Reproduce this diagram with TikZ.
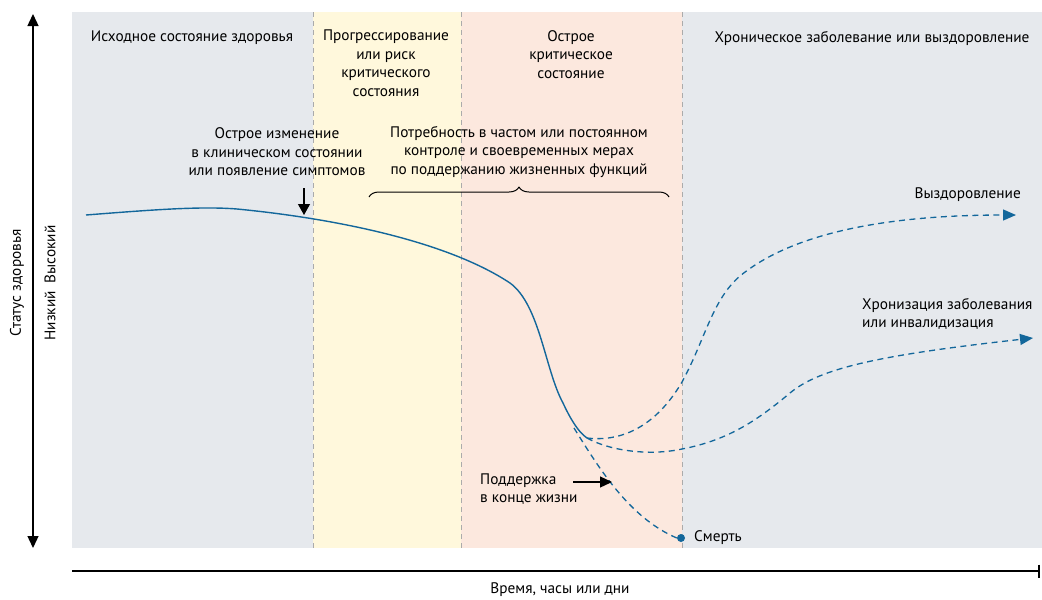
\documentclass[tikz,border=0pt]{standalone}
\usepackage{fontspec}
\setmainfont{PT Sans}
\usepackage{tikz}
\usetikzlibrary{calc}
\usetikzlibrary{arrows.meta}
\usetikzlibrary{decorations.pathreplacing}

\definecolor{bandgrey}{HTML}{E6E9ED}
\definecolor{bandyellow}{HTML}{FFF8DC}
\definecolor{bandpink}{HTML}{FCE8DE}
\definecolor{curveblue}{HTML}{13679B}
\definecolor{sepgrey}{HTML}{ABABAB}

\tikzset{
    lbl/.style={font=\fontsize{15.3}{18.5}\selectfont, align=center, inner sep=0pt},
    sepline/.style={sepgrey, line width=1pt, dash pattern=on 5pt off 4pt},
    course/.style={curveblue, line width=1.4pt},
    outcome/.style={curveblue, line width=1.3pt, dash pattern=on 6pt off 4.5pt,
        -{Triangle[length=13pt,width=11pt]}},
    axis/.style={black, line width=1.3pt},
}

\begin{document}
\begin{tikzpicture}[x=1pt,y=-1pt,line join=round]
    \useasboundingbox (0,0) rectangle (1042,600);
    %%
    % Bands
    \fill[bandgrey]   (72,12)  rectangle (313,548);
    \fill[bandyellow] (313,12) rectangle (461,548);
    \fill[bandpink]   (461,12) rectangle (682,548);
    \fill[bandgrey]   (682,12) rectangle (1042,548);
    \draw[sepline] (313,12) -- (313,548);
    \draw[sepline] (461,12) -- (461,548);
    \draw[sepline] (682,12) -- (682,548);
    %%
    % Band headers
    \node[lbl] (base) at (192,38) {Исходное состояние здоровья};
    \node[lbl, anchor=north] (prog) at (386,30) {Прогрессирование\\или риск\\критического\\состояния};
    \node[lbl, anchor=north] (acute) at (571,30) {Острое\\критическое\\состояние};
    \node[lbl] (chron) at (872,38) {Хроническое заболевание или выздоровление};
    %%
    % Axes
    \coordinate (ytop) at (33,14);
    \coordinate (ybot) at (33,548);
    \draw[axis, {Triangle[length=12pt,width=11pt]}-{Triangle[length=12pt,width=11pt]}] (ytop) -- (ybot);
    \node[lbl, rotate=90] (ystatus) at (17,283) {Статус здоровья};
    \node[lbl, rotate=90] (ylevel) at (50,283) {Низкий\hspace{8pt}Высокий};
    \coordinate (xleft) at (72,571);
    \coordinate (xright) at (1040,571);
    \draw[axis, -{Bar[width=13pt,line width=2pt]}] (xleft) -- (xright);
    \node[lbl] (xtime) at (560,590) {Время, часы или дни};
    %%
    % Node: course of illness
    \coordinate (start) at (86,215);
    \coordinate (split) at (587,438);
    \coordinate (fork) at (574,428);
    \draw[course] (start) .. controls (150,210) and (200,206) .. (237,209)
        .. controls (330,218) and (445,240) .. (510,283)
        .. controls (540,305) and (545,370) .. (563,403)
        .. controls (570,418) and (578,432) .. (split);
    %%
    % Edge: split -> recovery
    \coordinate (recend) at (1016,215);
    \draw[outcome] (split) .. controls (620,442) and (655,428) .. (682,382)
        .. controls (705,340) and (712,300) .. (740,276)
        .. controls (790,235) and (880,215) .. (recend);
    \node[lbl, anchor=east] (recovery) at (1021,195) {Выздоровление};
    %%
    % Edge: split -> chronic
    \coordinate (chrend) at (1033,338);
    \draw[outcome] (split) .. controls (610,451) and (650,456) .. (682,449)
        .. controls (730,440) and (760,418) .. (790,393)
        .. controls (820,368) and (880,355) .. (chrend);
    \node[lbl, anchor=north west, align=left] (chronic) at (862,298) {Хронизация заболевания\\или инвалидизация};
    %%
    % Edge: fork -> death
    \node[circle, fill=curveblue, inner sep=0pt, minimum size=8pt] (death) at (681,538) {};
    \draw[curveblue, line width=1.3pt, dash pattern=on 6pt off 4.5pt]
        (fork) .. controls (600,470) and (630,518) .. (death.west);
    \node[lbl, anchor=west] (deathlbl) at (694,538) {Смерть};
    %%
    % Annotations
    \node[lbl] (onset) at (277,152) {Острое изменение\\в клиническом состоянии\\или появление симптомов};
    \coordinate (onsettop) at (304,188);
    \coordinate (onsetbot) at (304,215);
    \draw[black, line width=1.2pt, -{Triangle[length=11pt,width=12pt]}] (onsettop) -- (onsetbot);
    \node[lbl] (support) at (519,152) {Потребность в частом или постоянном\\контроле и своевременных мерах\\по поддержанию жизненных функций};
    \coordinate (braceleft) at (369,197);
    \coordinate (braceright) at (669,197);
    \draw[black, line width=1pt, decorate, decoration={brace, amplitude=10pt}] (braceleft) -- (braceright);
    \node[lbl, anchor=west, align=left] (eol) at (480,489) {Поддержка\\в конце жизни};
    \coordinate (eolarrow) at (573,482);
    \coordinate (eoltip) at (612,482);
    \draw[black, line width=1.2pt, -{Triangle[length=12pt,width=11pt]}] (eolarrow) -- (eoltip);
    %
\end{tikzpicture}
\end{document}
